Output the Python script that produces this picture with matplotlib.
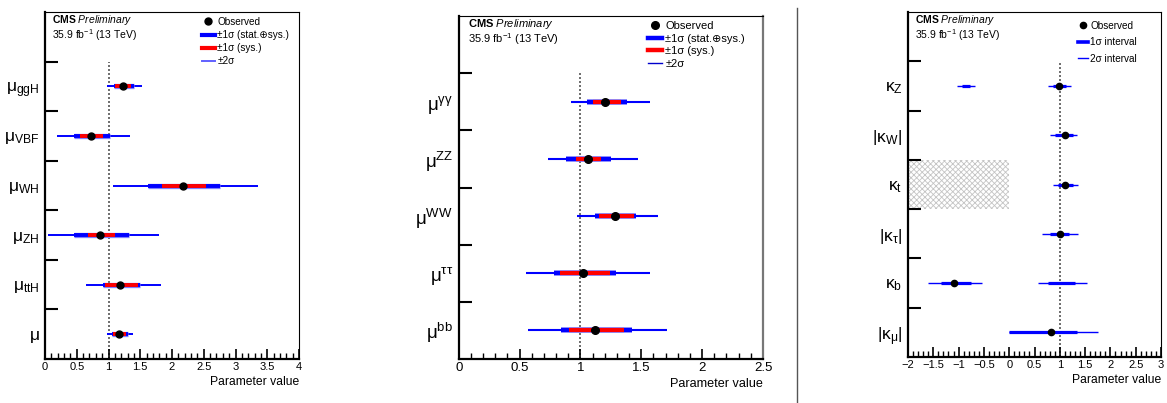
import numpy as np
import matplotlib
matplotlib.use("Agg")
import matplotlib.pyplot as plt
from matplotlib.lines import Line2D
from matplotlib.ticker import MultipleLocator, FuncFormatter

plt.rcParams['font.family'] = ['Liberation Sans', 'DejaVu Sans']
plt.rcParams['mathtext.fontset'] = 'custom'
plt.rcParams['mathtext.rm'] = 'Liberation Sans'
plt.rcParams['mathtext.it'] = 'Liberation Sans:italic'
plt.rcParams['mathtext.bf'] = 'Liberation Sans:bold'
plt.rcParams['hatch.linewidth'] = 0.6

# ------------------ Data: production modes ------------------
prod_labels = [r'$\mathregular{μ_{ggH}}$', r'$\mathregular{μ_{VBF}}$', r'$\mathregular{μ_{WH}}$',
               r'$\mathregular{μ_{ZH}}$', r'$\mathregular{μ_{ttH}}$', r'$\mathregular{μ}$']
prod_best = [1.23, 0.73, 2.18, 0.87, 1.18, 1.17]
prod_lo2 = [0.98, 0.19, 1.07, 0.04, 0.65, 0.98]
prod_hi2 = [1.53, 1.34, 3.36, 1.79, 1.83, 1.39]
prod_lo1 = [1.08, 0.45, 1.62, 0.45, 0.91, 1.05]
prod_hi1 = [1.40, 1.03, 2.76, 1.32, 1.49, 1.30]
prod_losys = [1.11, 0.55, 1.84, 0.68, 0.95, 1.07]
prod_hisys = [1.36, 0.92, 2.54, 1.10, 1.46, 1.28]

# ------------------ Data: decay modes ------------------
decay_labels = [r'$\mathregular{μ^{γγ}}$', r'$\mathregular{μ^{ZZ}}$', r'$\mathregular{μ^{WW}}$',
                r'$\mathregular{μ^{ττ}}$', r'$\mathregular{μ^{bb}}$']
decay_best = [1.20, 1.06, 1.28, 1.02, 1.12]
decay_lo2 = [0.92, 0.73, 0.97, 0.55, 0.57]
decay_hi2 = [1.57, 1.47, 1.64, 1.57, 1.71]
decay_lo1 = [1.05, 0.88, 1.12, 0.78, 0.84]
decay_hi1 = [1.38, 1.25, 1.46, 1.29, 1.42]
decay_losys = [1.10, 0.96, 1.15, 0.83, 0.91]
decay_hisys = [1.33, 1.17, 1.44, 1.24, 1.36]

# ------------------ Data: coupling modifiers ------------------
kappa_labels = [r'$\mathregular{κ_Z}$', r'$\mathregular{|κ_W|}$', r'$\mathregular{κ_t}$',
                r'$\mathregular{|κ_τ|}$', r'$\mathregular{κ_b}$', r'$\mathregular{|κ_μ|}$']
kappa_best = [0.99, 1.10, 1.11, 1.01, -1.10, 0.83]
kappa_lo2 = [0.76, 0.81, 0.87, 0.64, -1.60, 0.00]
kappa_hi2 = [1.23, 1.34, 1.35, 1.35, -0.54, 1.75]
kappa_lo1 = [0.86, 0.90, 0.96, 0.81, -1.35, 0.00]
kappa_hi1 = [1.12, 1.27, 1.27, 1.19, -0.76, 1.34]
# second (disjoint) intervals, no best-fit point
alt_index = [0, 4]
alt_lo2 = [-1.04, 0.56]
alt_hi2 = [-0.68, 1.54]
alt_lo1 = [-0.94, 0.76]
alt_hi1 = [-0.77, 1.31]
# excluded region for kappa_t
excl_index = 2
excl_lo, excl_hi = -2.0, 0.0


def fmt(v, pos):
    return ('%g' % v).replace('-', '\u2212')


def setup(ax, labels, xlim, fs_lab, fs_tick, fs_xlab):
    n = len(labels)
    ax.set_xlim(*xlim)
    ax.set_ylim(0, n + 1)
    ax.set_yticks(np.arange(1, n + 1))
    ax.set_yticklabels([])
    ax.set_yticks(np.arange(n) + 0.5, minor=True)
    ax.set_yticklabels(labels[::-1], minor=True)
    ax.tick_params(axis='y', which='major', direction='in', length=9, width=1.5, right=False)
    ax.tick_params(axis='y', which='minor', length=0, pad=4, labelsize=fs_lab)
    ax.xaxis.set_major_locator(MultipleLocator(0.5))
    ax.xaxis.set_minor_locator(MultipleLocator(0.1))
    ax.xaxis.set_major_formatter(FuncFormatter(fmt))
    ax.tick_params(axis='x', which='major', direction='in', length=7, width=1.2, top=False,
                   labelsize=fs_tick, pad=2)
    ax.tick_params(axis='x', which='minor', direction='in', length=4, width=1.0, top=False)
    for s in ['left', 'bottom']:
        ax.spines[s].set_linewidth(1.6)
    for s in ['top', 'right']:
        ax.spines[s].set_linewidth(0.8)
    ax.set_xlabel('Parameter value', loc='right', fontsize=fs_xlab, labelpad=3)
    ax.vlines(1, 0, n, colors='#555555', linestyles=(0, (1.2, 1.2)), lw=1.2, zorder=1)
    return n


def header(ax, x, y1, y2, fs):
    ax.text(x, y1, r'$\mathbf{CMS}\ \mathit{Preliminary}$', transform=ax.transAxes,
            fontsize=fs, va='center', ha='left')
    ax.text(x, y2, r'35.9 fb$^{-1}$ (13 TeV)', transform=ax.transAxes,
            fontsize=fs, va='center', ha='left')


def draw_mu(ax, labels, best, lo2, hi2, lo1, hi1, losys, hisys, lw_thick, lw_thin, ms):
    n = len(labels)
    y = n - np.arange(n) - 0.5
    ax.hlines(y, lo2, hi2, colors='#0000ff', lw=lw_thin, zorder=2)
    ax.hlines(y, lo1, hi1, colors='#8080ff', lw=lw_thick + 1.0, zorder=2.5)
    ax.hlines(y, lo1, hi1, colors='#0000ff', lw=lw_thick, zorder=3)
    ax.hlines(y, losys, hisys, colors='#ff0000', lw=lw_thick, zorder=4)
    ax.plot(best, y, 'o', color='k', ms=ms, zorder=5)


fig = plt.figure(figsize=(11.67, 4.03), dpi=100)
W, H = 1167.0, 403.0

# ------------------ Panel 1 ------------------
ax1 = fig.add_axes([45 / W, 1 - 359 / H, 254 / W, 347 / H])
setup(ax1, prod_labels, (0, 4), 12.5, 8, 8.7)
draw_mu(ax1, prod_labels, prod_best, prod_lo2, prod_hi2, prod_lo1, prod_hi1,
        prod_losys, prod_hisys, 2.8, 1.4, 5)
header(ax1, 0.028, 0.978, 0.932, 7.5)
h1 = [Line2D([], [], marker='o', ls='none', color='k', ms=5),
      Line2D([], [], color='#0000ff', lw=3),
      Line2D([], [], color='#ff0000', lw=3),
      Line2D([], [], color='#6060ff', lw=1.4)]
ax1.legend(h1, ['Observed', '±1σ (stat.⊕sys.)', '±1σ (sys.)', '±2σ'],
           loc='upper left', bbox_to_anchor=(0.618, 0.986), frameon=False, fontsize=7.2,
           handlelength=1.3, handletextpad=0.25, labelspacing=0.32, borderpad=0, borderaxespad=0)

# ------------------ Panel 2 ------------------
ax2 = fig.add_axes([458.7 / W, 1 - 359 / H, 304.3 / W, 343 / H])
setup(ax2, decay_labels, (0, 2.5), 13.5, 9.5, 9.1)
draw_mu(ax2, decay_labels, decay_best, decay_lo2, decay_hi2, decay_lo1, decay_hi1,
        decay_losys, decay_hisys, 3.0, 1.5, 5.5)
ax2.spines['right'].set_color('#777777')
ax2.spines['right'].set_linewidth(1.6)
header(ax2, 0.03, 0.978, 0.934, 8)
h2 = [Line2D([], [], marker='o', ls='none', color='k', ms=5.5),
      Line2D([], [], color='#0000ff', lw=3.2),
      Line2D([], [], color='#ff0000', lw=3.2),
      Line2D([], [], color='#0000cc', lw=1.0)]
ax2.legend(h2, ['Observed', '±1σ (stat.⊕sys.)', '±1σ (sys.)', '±2σ'],
           loc='upper left', bbox_to_anchor=(0.622, 0.985), frameon=False, fontsize=8,
           handlelength=1.3, handletextpad=0.25, labelspacing=0.23, borderpad=0, borderaxespad=0)

# ------------------ Panel 3 ------------------
ax3 = fig.add_axes([908 / W, 1 - 357 / H, 253 / W, 345 / H])
n3 = setup(ax3, kappa_labels, (-2, 3), 12.5, 8, 8.7)
y3 = n3 - np.arange(n3) - 0.5
ax3.barh(y3[excl_index], excl_hi - excl_lo, left=excl_lo, height=1.0, color='white',
         edgecolor='#c4c4c4', hatch='xxxxxx', lw=0, zorder=0)
ax3.hlines(y3, kappa_lo2, kappa_hi2, colors='#0000ff', lw=1.0, zorder=2)
ax3.hlines(y3, kappa_lo1, kappa_hi1, colors='#0000ff', lw=2.3, zorder=3)
ya = y3[alt_index]
ax3.hlines(ya, alt_lo2, alt_hi2, colors='#0000ff', lw=1.0, zorder=2)
ax3.hlines(ya, alt_lo1, alt_hi1, colors='#0000ff', lw=2.3, zorder=3)
ax3.plot(kappa_best, y3, 'o', color='k', ms=4.5, zorder=5)
header(ax3, 0.028, 0.978, 0.933, 7.5)
h3 = [Line2D([], [], marker='o', ls='none', color='k', ms=4.5),
      Line2D([], [], color='#0000ff', lw=2.6),
      Line2D([], [], color='#0000ff', lw=1.0)]
ax3.legend(h3, ['Observed', '1σ interval', '2σ interval'],
           loc='upper left', bbox_to_anchor=(0.67, 0.975), frameon=False, fontsize=7.2,
           handlelength=1.0, handletextpad=0.25, labelspacing=0.65, borderpad=0, borderaxespad=0)

# separator between the panels
fig.add_artist(Line2D([797 / W, 797 / W], [1 - 8 / H, 0.0], color='#555555', lw=1.0))

fig.savefig('out.png', dpi=100)
